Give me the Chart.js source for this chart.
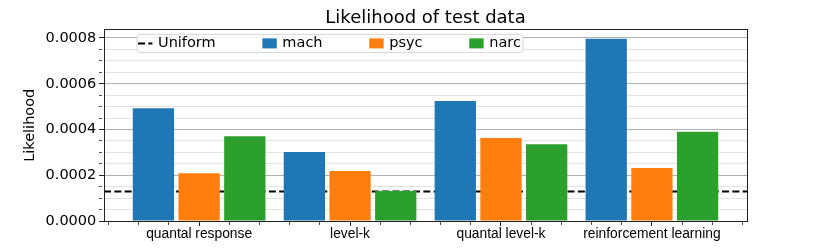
<!DOCTYPE html>
<html>
<head>
<meta charset="utf-8">
<script src="https://cdn.jsdelivr.net/npm/chart.js@4.4.1/dist/chart.umd.min.js"></script>
<style>
  html, body { margin: 0; padding: 0; background: #fff; }
  #chart { display: block; }
</style>
</head>
<body>
<canvas id="chart" width="830" height="249"></canvas>
<script>
// data
var categories = ['quantal response', 'level-k', 'quantal level-k', 'reinforcement learning'];
var machValues = [0.000493, 0.000302, 0.000525, 0.000797];
var psycValues = [0.000209, 0.000219, 0.000363, 0.000232];
var narcValues = [0.000371, 0.000131, 0.000336, 0.000390];
var uniformValue = 0.0001286;
var yTickLabels = ['0.0000', '0.0002', '0.0004', '0.0006', '0.0008'];

var X_MIN = -0.63, X_MAX = 3.63;
var Y_MAX = 0.000837;
var Y_MAJOR = 0.0002, Y_MINOR = 0.00005, X_MINOR = 0.2;

function isMul(v, step) {
    return Math.abs(v / step - Math.round(v / step)) < 1e-6;
}

function toPoints(values) {
    return values.map(function (v, i) { return { x: i, y: v }; });
}

var ctx = document.getElementById('chart').getContext('2d');

// legend drawn inside the plot, in a white box like matplotlib
var boxLegend = {
    id: 'boxLegend',
    afterDatasetsDraw: function (chart) {
        var c = chart.ctx, area = chart.chartArea;
        var bx = area.left + 32.5, by = area.top + 4.4, bw = 386, bh = 18;
        c.save();
        c.beginPath();
        c.roundRect(bx + 0.5, by + 0.5, bw, bh, 3);
        c.fillStyle = 'rgba(255,255,255,0.85)';
        c.fill();
        c.strokeStyle = '#d6d6d6';
        c.lineWidth = 1;
        c.stroke();

        c.font = '14.5px "DejaVu Sans"';
        c.textBaseline = 'middle';
        c.textAlign = 'left';
        var cy = by + bh / 2 + 0.5;
        var x = bx + 1.5;
        chart.data.datasets.forEach(function (ds) {
            if (ds.type === 'line') {
                c.beginPath();
                c.setLineDash(ds.borderDash);
                c.strokeStyle = ds.borderColor;
                c.lineWidth = ds.borderWidth;
                c.moveTo(x, cy);
                c.lineTo(x + 14.4, cy);
                c.stroke();
                c.setLineDash([]);
            } else {
                c.fillStyle = ds.backgroundColor;
                c.fillRect(x, cy - 5, 14.4, 10);
            }
            c.fillStyle = '#000';
            c.fillText(ds.label, x + 20, cy);
            x += 20 + c.measureText(ds.label).width + 46.7;
        });
        c.restore();
    }
};

var chart = new Chart(ctx, {
    data: {
        datasets: [
            {
                type: 'line',
                label: 'Uniform',
                data: [{ x: X_MIN, y: uniformValue }, { x: X_MAX, y: uniformValue }],
                borderColor: '#000',
                borderWidth: 2,
                borderDash: [7, 3.3],
                pointRadius: 0,
                xAxisID: 'xBar',
                yAxisID: 'y',
                order: 10
            },
            { type: 'bar', label: 'mach', data: toPoints(machValues), backgroundColor: '#1f77b4', xAxisID: 'xBar', yAxisID: 'y', order: 1 },
            { type: 'bar', label: 'psyc', data: toPoints(psycValues), backgroundColor: '#ff7f0e', xAxisID: 'xBar', yAxisID: 'y', order: 1 },
            { type: 'bar', label: 'narc', data: toPoints(narcValues), backgroundColor: '#2ca02c', xAxisID: 'xBar', yAxisID: 'y', order: 1 }
        ]
    },
    options: {
        responsive: false,
        animation: false,
        events: [],
        categoryPercentage: 0.908,
        barPercentage: 0.904,
        layout: { padding: { left: 17.9, right: 83, top: 2, bottom: 6.4 } },
        plugins: {
            legend: { display: false },
            tooltip: { enabled: false },
            title: {
                display: true,
                text: 'Likelihood of test data',
                fullSize: false,
                color: '#000',
                font: { family: 'DejaVu Sans', size: 18, weight: 'normal' },
                padding: { top: 5.7, bottom: 0.2 }
            }
        },
        scales: {
            xBar: {
                type: 'linear',
                position: 'bottom',
                display: false,
                offset: false,
                bounds: 'data',
                min: X_MIN,
                max: X_MAX,
                afterBuildTicks: function (scale) {
                    scale.ticks = categories.map(function (c, i) { return { value: i }; });
                }
            },
            x: {
                type: 'linear',
                position: 'bottom',
                offset: false,
                bounds: 'data',
                min: X_MIN,
                max: X_MAX,
                afterBuildTicks: function (scale) {
                    var t = [];
                    for (var k = -3; k <= 18; k++) t.push({ value: k * X_MINOR });
                    scale.ticks = t;
                },
                ticks: {
                    autoSkip: false,
                    maxRotation: 0,
                    padding: 0,
                    color: '#000',
                    font: { family: 'Liberation Sans', size: 13.8 },
                    callback: function (v) {
                        if (!isMul(v, 1)) return '';
                        return categories[Math.round(v)] || '';
                    }
                },
                grid: {
                    drawOnChartArea: false,
                    drawTicks: true,
                    tickLength: 5,
                    tickColor: '#222',
                    tickWidth: function (c) { return isMul(c.tick.value, 1) ? 1 : 0.8; },
                    tickBorderDash: function (c) { return isMul(c.tick.value, 1) ? [] : [3, 10]; }
                },
                border: { color: '#222', width: 1, z: 1 }
            },
            xTop: {
                type: 'linear',
                position: 'top',
                min: X_MIN,
                max: X_MAX,
                ticks: { display: false },
                grid: { display: false, drawTicks: false },
                border: { display: true, color: '#222', width: 1, z: 1 }
            },
            y: {
                type: 'linear',
                position: 'left',
                bounds: 'data',
                min: 0,
                max: Y_MAX,
                title: {
                    display: true,
                    text: 'Likelihood',
                    color: '#000',
                    font: { family: 'DejaVu Sans', size: 14.5 },
                    padding: { top: 4, bottom: 3.5 }
                },
                ticks: {
                    stepSize: Y_MINOR,
                    includeBounds: false,
                    autoSkip: false,
                    padding: 2.75,
                    color: '#000',
                    font: { family: 'DejaVu Sans', size: 14.5 },
                    callback: function (v) {
                        if (!isMul(v, Y_MAJOR)) return '';
                        return yTickLabels[Math.round(v / Y_MAJOR)];
                    }
                },
                grid: {
                    color: function (c) { return isMul(c.tick.value, Y_MAJOR) ? '#b0b0b0' : '#e2e2e2'; },
                    lineWidth: 1,
                    tickLength: 5,
                    tickColor: '#222',
                    tickWidth: function (c) { return isMul(c.tick.value, Y_MAJOR) ? 1 : 0.8; },
                    tickBorderDash: function (c) { return isMul(c.tick.value, Y_MAJOR) ? [] : [3, 10]; }
                },
                border: { color: '#222', width: 1, z: 1 }
            },
            yRight: {
                type: 'linear',
                position: 'right',
                min: 0,
                max: Y_MAX,
                ticks: { display: false },
                grid: { display: false, drawTicks: false },
                border: { display: true, color: '#222', width: 1, z: 1 }
            }
        }
    },
    plugins: [boxLegend]
});
</script>
</body>
</html>
